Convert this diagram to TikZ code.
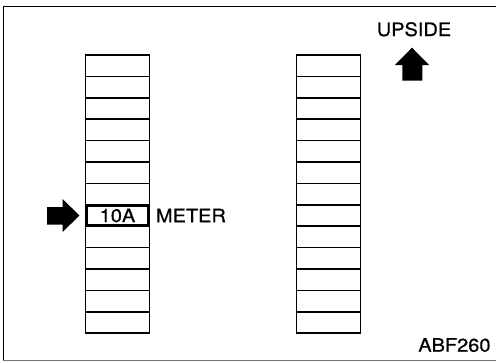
\documentclass[tikz,border=0pt]{standalone}
\usepackage{fontspec}
\setmainfont{TeX Gyre Heros}[FakeStretch=1.08, FakeBold=0.6]
\usetikzlibrary{positioning}

\begin{document}
\begin{tikzpicture}[
    x=1pt, y=-1pt,
    every node/.style={align=center, font=\fontsize{18.5}{20}\selectfont},
    cell/.style={rectangle, draw=black, line width=1.5pt, minimum width=64pt, minimum height=21.4pt, inner sep=0pt},
    fuse/.style={rectangle, draw=black, line width=2.6pt, minimum width=62pt, minimum height=19.4pt, inner sep=0pt},
    caption/.style={inner sep=0pt},
    blockarrow/.style={fill=black}
]
\useasboundingbox (0,0) rectangle (496,362);

% Frame
\draw[line width=0.9pt] (3,360) -- (3,6.5) -- (495.5,6.5);
\draw[line width=0.9pt, black!55] (3,360) -- (495.5,360);

% Fuse block columns
\foreach \i in {1,...,13} {
    \node[cell] (l\i) at (117.5, {55+21.4*(\i-0.5)}) {};
    \node[cell] (r\i) at (328.5, {55+21.4*(\i-0.5)}) {};
}

% Meter fuse
\node[fuse] (meter) at (l8) {10A};
\node[caption, right=5.5pt of l8.east, anchor=west] (metertxt) {METER};

% Pointer to meter fuse
\fill[blockarrow] (47,207) -- (62.5,207) -- (62.5,199) -- (l8.west -| 79.5,0) -- (62.5,232) -- (62.5,224.5) -- (47,224.5) -- cycle;

% Upside mark
\node[caption, anchor=base] (upside) at (414,36) {UPSIDE};
\fill[blockarrow] (402.3,80.7) -- (402.3,65) -- (395,65) -- (412,47.7) -- (429,65) -- (422.3,65) -- (422.3,80.7) -- cycle;

% Figure code
\node[caption, anchor=base east] (figcode) at (490.7,351.7) {ABF260};

\end{tikzpicture}
\end{document}
